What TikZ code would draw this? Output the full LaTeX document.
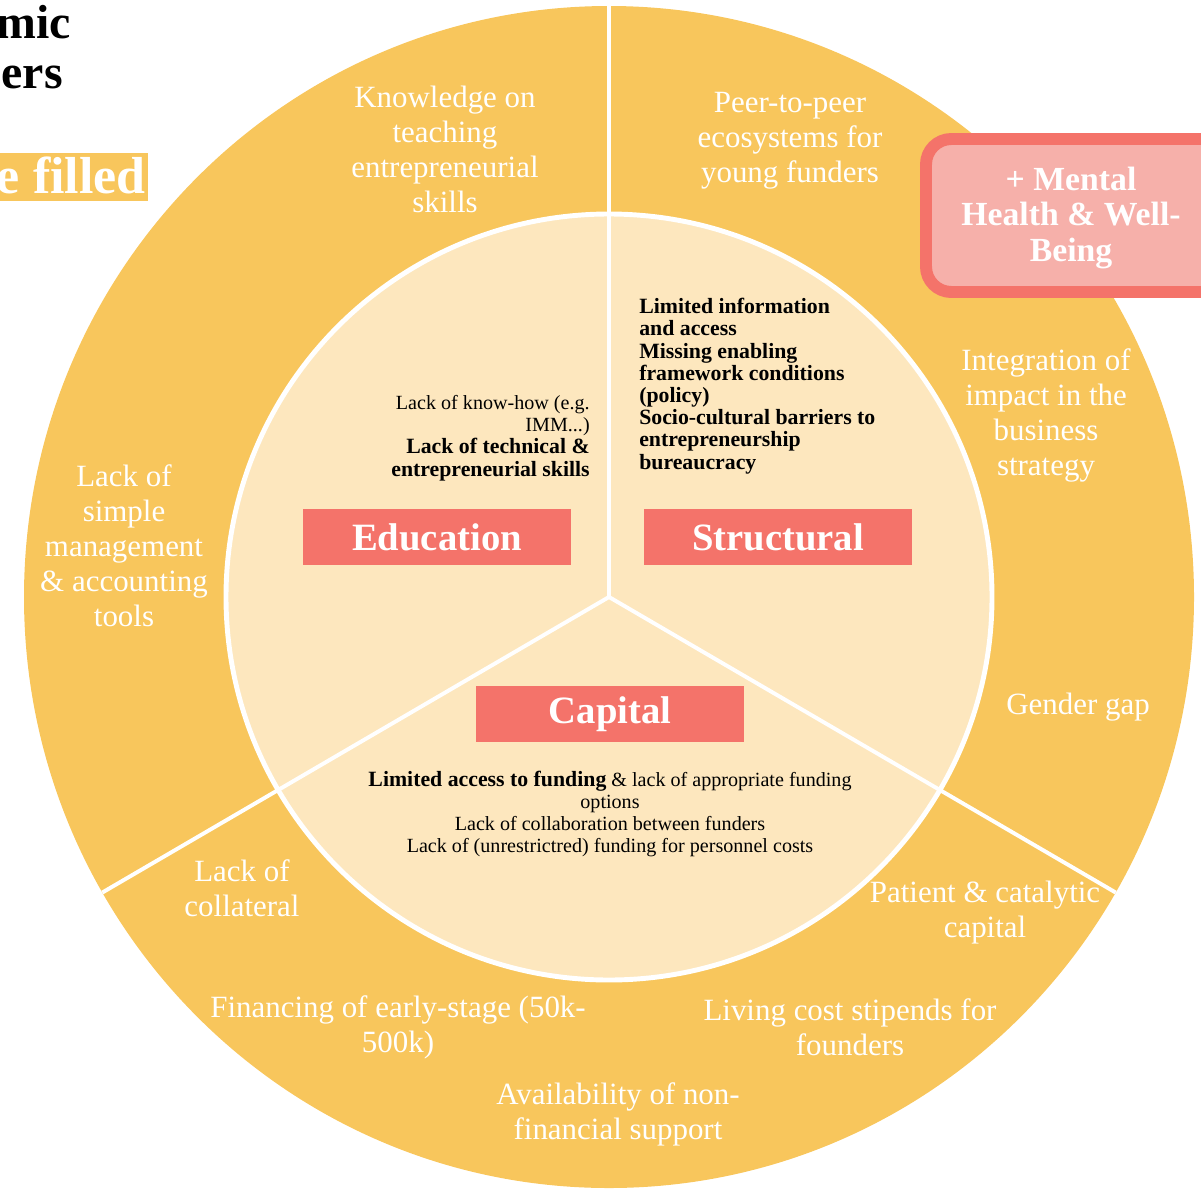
\documentclass[tikz,border=0pt]{standalone}
\usepackage{fontspec}
\setmainfont{Liberation Serif}
\definecolor{ring}{HTML}{F8C65C}
\definecolor{core}{HTML}{FDE7BE}
\definecolor{tag}{HTML}{F4736A}
\definecolor{pinkfill}{HTML}{F6B0AA}
\tikzset{
  ringtxt/.style={align=center,text=white,inner sep=0pt,font=\fontsize{22}{24.9}\selectfont},
  coretxt/.style={inner sep=0pt,font=\fontsize{14.3}{15.8}\selectfont},
  boldtxt/.style={inner sep=0pt,font=\bfseries\fontsize{15.5}{15.8}\selectfont},
  tagbox/.style={fill=tag,text=white,inner sep=0pt,minimum width=191pt,minimum height=40.5pt,font=\bfseries\fontsize{27.5}{30}\selectfont}
}
\begin{document}
\begin{tikzpicture}[x=0.025cm,y=-0.025cm]
\useasboundingbox (0,0) rectangle (1201,1190);
\clip (0,0) rectangle (1201,1190);
\coordinate (c) at (609,597);
% rings
\fill[ring] (c) ellipse [x radius=585, y radius=591];
\filldraw[fill=core,draw=white,line width=3.5pt] (c) circle [radius=383];
\foreach \a in {-90,30,150}{
\draw[white,line width=2.8pt] (c)--++({585*cos(\a)},{591*sin(\a)});
}

% title bits
\node[anchor=base east,inner sep=0pt,font=\bfseries\fontsize{34}{36}\selectfont] (t1) at (71,38) {mic};
\node[anchor=base east,inner sep=0pt,font=\bfseries\fontsize{34}{36}\selectfont] (t2) at (63,88) {ers};
\fill[ring] (0,153) rectangle (148,201);
\node[anchor=base east,inner sep=0pt,text=white,font=\bfseries\fontsize{37}{40}\selectfont] (t3) at (146,193) {e filled};

% extra box
\filldraw[fill=pinkfill,draw=tag,line width=8.5pt,rounded corners=18pt] (926,139) rectangle (1240,292);
\node[align=center,text=white,inner sep=0pt,font=\bfseries\fontsize{24}{25}\selectfont] (mh) at (1071,218) {+ Mental\\Health \& Well-\\Being};

% category tags
\node[tagbox] (edu) at (437,537) {Education};
\node[tagbox] (str) at (778,537) {Structural};
\node[tagbox] (cap) at (610,714) {Capital};

% inner texts
\node[coretxt,align=right,anchor=east] (edutxt) at (590,438) {Lack of know-how (e.g.\\IMM...)\\{\bfseries\fontsize{15.5}{15.8}\selectfont Lack of technical \&}\\{\bfseries\fontsize{15.5}{15.8}\selectfont entrepreneurial skills}};
\node[boldtxt,align=left,anchor=west] (strtxt) at (639,386) {Limited information\\and access\\Missing enabling\\framework conditions\\(policy)\\Socio-cultural barriers to\\entrepreneurship\\bureaucracy};
\node[coretxt,align=center] (captxt) at (610,814) {{\bfseries\fontsize{15.5}{15.8}\selectfont Limited access to funding} \& lack of appropriate funding\\options\\Lack of collaboration between funders\\Lack of (unrestrictred) funding for personnel costs};

% outer texts
\node[ringtxt] (o1) at (445,149) {Knowledge on\\teaching\\entrepreneurial\\skills};
\node[ringtxt] (o2) at (790,141) {Peer-to-peer\\ecosystems for\\young funders};
\node[ringtxt] (o3) at (1046,415) {Integration of\\impact in the\\business\\strategy};
\node[ringtxt] (o4) at (1078,707) {Gender gap};
\node[ringtxt] (o5) at (985,913) {Patient \& catalytic\\capital};
\node[ringtxt] (o6) at (850,1027) {Living cost stipends for\\founders};
\node[ringtxt] (o7) at (618,1114) {Availability of non-\\financial support};
\node[ringtxt] (o8) at (398,1027) {Financing of early-stage (50k-\\500k)};
\node[ringtxt] (o9) at (242,888) {Lack of\\collateral};
\node[ringtxt] (o10) at (124,546) {Lack of\\simple\\management\\\& accounting\\tools};
\end{tikzpicture}
\end{document}
